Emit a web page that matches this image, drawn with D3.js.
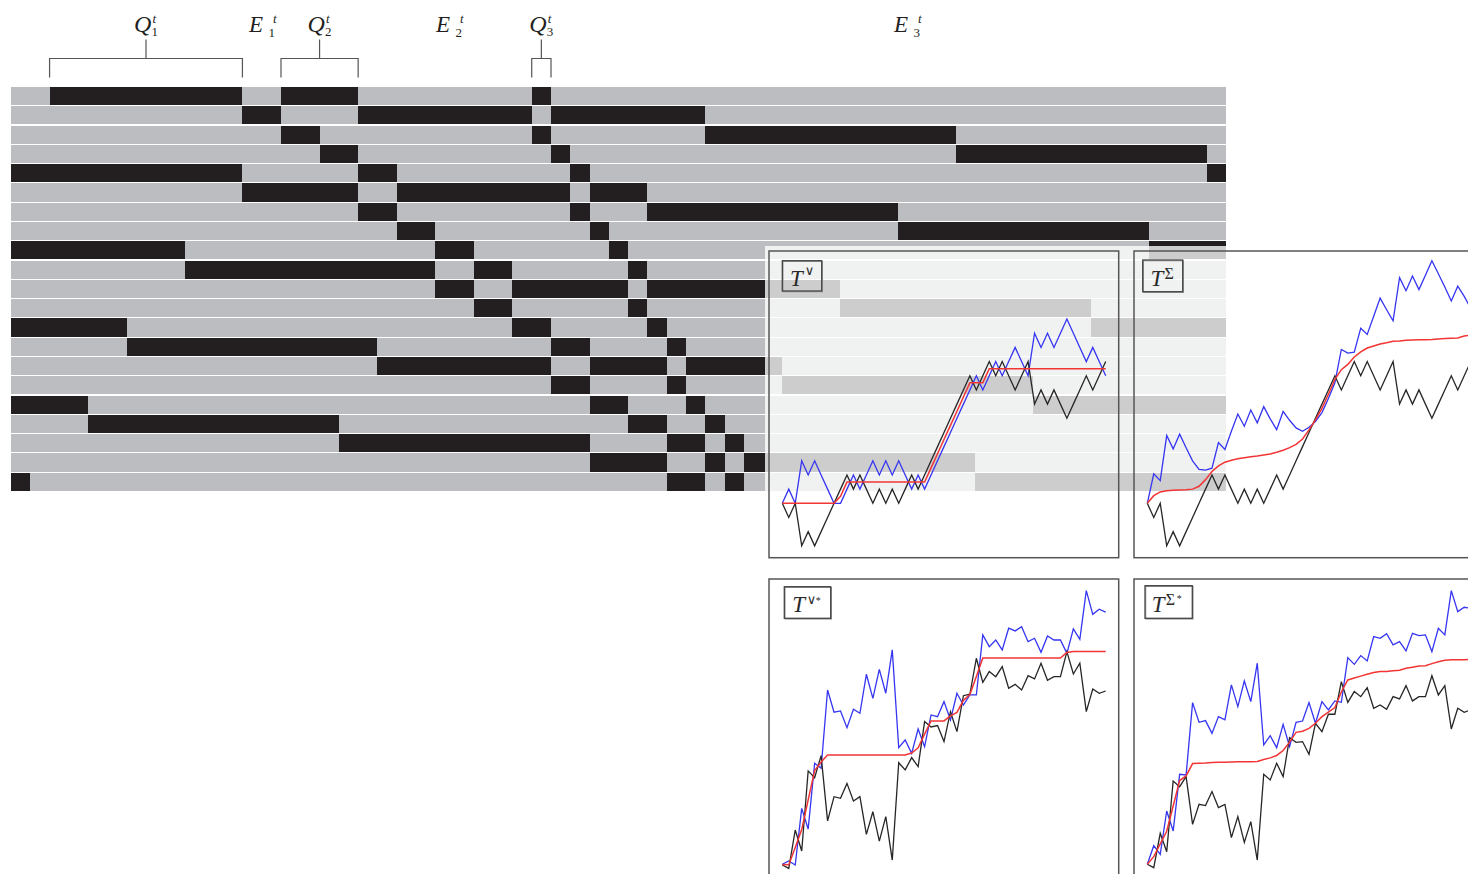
<!DOCTYPE html>
<html>
<head>
<meta charset="utf-8">
<script src="https://cdn.jsdelivr.net/npm/d3@7"></script>
<style>
  html, body { margin: 0; padding: 0; background: #fff; overflow: hidden; }
  svg { display: block; }
</style>
</head>
<body>
<svg id="fig" width="1468" height="874"></svg>
<script>
// ---- schedule grid: 21 rows x 63 time slots, busy intervals [start, end) per row
const nCols = 63;
const nRows = 21;
const rowBusy = [
  [[2,12],[14,18],[27,28]],
  [[12,14],[18,27],[28,36]],
  [[14,16],[27,28],[36,49]],
  [[16,18],[28,29],[49,62]],
  [[0,12],[18,20],[29,30],[62,63]],
  [[12,18],[20,29],[30,33]],
  [[18,20],[29,30],[33,46]],
  [[20,22],[30,31],[46,59]],
  [[0,9],[22,24],[31,32],[59,63]],
  [[9,22],[24,26],[32,33]],
  [[22,24],[26,32],[33,43]],
  [[24,26],[32,33],[43,56]],
  [[0,6],[26,28],[33,34],[56,63]],
  [[6,19],[28,30],[34,35]],
  [[19,28],[30,34],[35,40]],
  [[28,30],[34,35],[40,53]],
  [[0,4],[30,32],[35,36],[53,63]],
  [[4,17],[32,34],[36,37]],
  [[17,30],[34,36],[37,38]],
  [[30,34],[36,37],[38,50]],
  [[0,1],[34,36],[37,38],[50,63]]
];

// bracketed queue groups (column spans) and epoch label anchors (column units)
const queueIdx   = ["1", "2", "3"];
const queueFrom  = [2, 14, 27];
const queueTo    = [12, 18, 28];
const epochIdx   = ["1", "2", "3"];
const epochAt    = [12.34, 22.04, 45.78];

// ---- trajectories, 51 steps each, in lattice units
const topBlack = [0,-1,0,-3,-2,-3,-2,-1,0,1, 2,1,2,1,0,1,0,1,0,1,
  2,1,2,3,4,5,6,7,8,9, 8,9,10,9,10,9,8,9,10,7, 8,7,8,7,6,7,8,9,8,9, 10];
const topMaxRed = [0,0,0,0,0,0,0,0,0,0.5, 1.5,1.5,1.5,1.5,1.5,1.5,1.5,1.5,1.5,1.5,
  1.5,1.5,1.5,2.5,3.5,4.5,5.5,6.5,7.5,8.5, 8.5,8.5,9.5,9.5,9.5,9.5,9.5,9.5,9.5,9.5,
  9.5,9.5,9.5,9.5,9.5,9.5,9.5,9.5,9.5,9.5, 9.5];
const topMaxBlue = [0,1,0,3,2,3,2,1,0,0, 1,2,1,2,3,2,3,2,3,2,
  1,2,1,2,3,4,5,6,7,8, 9,8,9,10,9,10,11,10,9,12, 11,12,11,12,13,12,11,10,11,10, 9];
const topSumRed = [0,0.54,0.8,0.89,0.92,0.94,0.96,1.0,1.2,1.67,
  2.24,2.64,2.9,3.04,3.15,3.22,3.29,3.34,3.41,3.48,
  3.6,3.74,3.93,4.16,4.54,5.18,5.88,6.7,7.7,8.75,
  9.43,9.8,10.33,10.68,10.96,11.1,11.24,11.33,11.44,11.46,
  11.5,11.52,11.54,11.55,11.56,11.6,11.63,11.64,11.66,11.8, 11.88];
const topSumBlue = [0,2.08,1.6,4.78,3.84,4.88,3.92,3.0,2.4,2.34,
  2.48,4.28,3.8,5.08,6.3,5.44,6.58,5.68,6.82,5.96,
  5.2,6.48,5.86,5.32,5.08,5.36,5.76,6.4,7.4,8.5,
  10.86,10.6,10.66,12.36,11.92,13.2,14.48,13.66,12.88,15.92,
  15.0,16.04,15.08,16.1,17.12,16.2,15.26,14.28,15.32,14.6, 13.76];

const lowMaxBlack = [0,-0.24,2.47,0.99,6.64,6.16,7.72,3.11,4.82,4.71,
  5.76,4.52,4.82,2.16,3.76,1.69,3.41,0.35,7.22,6.71,
  7.58,6.94,10.12,9.74,9.84,8.71,10.82,9.41,11.95,12.05,
  14.59,12.89,13.65,13.29,14,12.47,12.75,12.35,13.36,13.13,
  14.24,13.04,13.29,13.29,15.06,13.48,14.24,10.82,12.42,12.12, 12.28];
const lowMaxBlue = [0.05,0.28,0,4,2.54,7.18,6.82,12.35,10.78,10.87,
  9.69,10.99,10.71,13.46,11.76,13.81,12.12,15.18,8.28,8.82,
  7.88,9.6,8.35,10.59,10.47,11.53,10.24,12.12,11.29,12,
  12,16.24,15.41,15.88,15.18,16.71,16.52,16.82,15.76,16,
  15.01,16.16,15.88,15.88,14.94,16.66,15.93,19.36,17.69,18.05, 17.84];
const lowMaxRed = [0.03,0.02,1.24,2.5,4.59,6.67,7.27,7.76,7.76,7.76,
  7.76,7.76,7.76,7.76,7.76,7.76,7.76,7.76,7.76,7.76,
  7.9,8.27,9.24,10.17,10.17,10.17,10.53,10.77,11.62,12.03,
  13.3,14.6,14.6,14.6,14.6,14.6,14.6,14.6,14.6,14.6,
  14.6,14.6,14.6,14.6,15.0,15.07,15.07,15.07,15.07,15.07, 15.07];

const lowSumBlack = [0.05,-0.19,2.24,0.94,5.93,5.53,6.24,2.87,4.28,4.19,
  5.18,4.05,4.28,1.93,3.41,1.6,3.06,0.35,6.4,6,
  7.18,6.24,8.99,8.66,8.71,7.81,10,9.41,10.64,10.64,
  12.94,11.48,12.24,11.88,12.52,11.06,11.29,10.99,11.88,11.72,
  12.66,11.58,11.88,11.88,13.36,12,12.66,9.6,11.06,10.78, 10.94];
const lowSumBlue = [0.05,1.36,0.75,3.81,2.4,6.4,6.35,11.46,10.07,10.19,
  9.29,10.47,10.24,12.71,11.18,12.99,11.53,14.24,8.47,9.13,
  8.28,9.93,8.35,10.07,10.16,11.46,10,11.53,10.94,11.58,
  11.48,14.64,14.16,14.78,14.4,16.12,16,16.33,15.53,15.76,
  15.11,16.35,16.19,16.24,15.06,16.71,16.24,19.36,17.88,18.19, 18.12];
const lowSumRed = [0.05,0.59,1.49,2.38,4.16,5.96,6.29,7.16,7.18,7.19,
  7.24,7.25,7.26,7.27,7.28,7.29,7.29,7.3,7.44,7.56,
  7.73,8.08,8.67,9.36,9.44,9.64,10,10.47,10.79,11.11,
  12.21,13.06,13.2,13.33,13.46,13.59,13.65,13.66,13.71,13.74,
  13.88,13.96,14.04,14.06,14.21,14.35,14.45,14.48,14.48,14.49, 14.5];

// ---- drawing
const W = 1468, H = 874;
const GRAY = "#bcbdc0", INK = "#231f20";
const SERIF = "'Liberation Serif','DejaVu Serif',serif";
const SYM = "'DejaVu Sans','Noto Sans',sans-serif";
const svg = d3.select("#fig");

const xCol = d3.scaleLinear().domain([0, nCols]).range([11, 1226]);
const yRow = d3.scaleLinear().domain([0, nRows]).range([87, 492]);
const rowH = yRow(1) - yRow(0) - 1.1;

const gridG = svg.append("g").attr("shape-rendering", "crispEdges");
rowBusy.forEach((segs, r) => {
  gridG.append("rect")
    .attr("x", xCol(0)).attr("y", yRow(r))
    .attr("width", xCol(nCols) - xCol(0)).attr("height", rowH)
    .attr("fill", GRAY);
  gridG.selectAll(null).data(segs).enter().append("rect")
    .attr("x", d => xCol(d[0])).attr("y", yRow(r))
    .attr("width", d => xCol(d[1]) - xCol(d[0])).attr("height", rowH)
    .attr("fill", INK);
});

// brackets and queue labels
const headG = svg.append("g");
queueIdx.forEach((q, k) => {
  const a = xCol(queueFrom[k]), b = xCol(queueTo[k]), m = (a + b) / 2;
  headG.append("path")
    .attr("d", `M${a},77.5V58.5H${b}V77.5M${m},58.5V39.5`)
    .attr("fill", "none").attr("stroke", "#555").attr("stroke-width", 1.2);
  const t = headG.append("text").attr("font-family", SERIF).attr("fill", "#231f20");
  const x0 = m - 12;
  t.append("tspan").attr("x", x0).attr("y", 32).attr("font-size", 24)
    .attr("font-style", "italic").text("Q");
  t.append("tspan").attr("x", x0 + 17.5).attr("y", 36).attr("font-size", 13).text(q);
  t.append("tspan").attr("x", x0 + 18.5).attr("y", 23).attr("font-size", 13)
    .attr("font-style", "italic").text("t");
});
epochIdx.forEach((e, k) => {
  const x0 = xCol(epochAt[k]);
  const t = headG.append("text").attr("font-family", SERIF).attr("fill", "#231f20");
  t.append("tspan").attr("x", x0).attr("y", 32).attr("font-size", 23)
    .attr("font-style", "italic").text("E");
  t.append("tspan").attr("x", x0 + 19.5).attr("y", 37).attr("font-size", 13).text(e);
  t.append("tspan").attr("x", x0 + 24).attr("y", 23).attr("font-size", 13)
    .attr("font-style", "italic").text("t");
});

// translucent veil under the panels
svg.append("rect").attr("x", 765).attr("y", 246)
  .attr("width", W - 765).attr("height", H - 246)
  .attr("fill", "#fff").attr("opacity", 0.78);

const panels = [
  { frame: [769, 251, 1118.7, 557.7], x0: 782.3, x1: 1105.7, base: 503.3,
    box: [782.3, 260.7, 39.4, 30.3], T: [790, 285.5], sym: "\u2228", symAt: [804.8, 275], symSize: 13, star: null,
    blue: topMaxBlue, black: topBlack, red: topMaxRed },
  { frame: [1134, 251, 1484, 557.7], x0: 1147.3, x1: 1470.7, base: 503.3,
    box: [1142.7, 260, 40, 31.7], T: [1150.5, 285.7], sym: "\u03A3", symAt: [1164.5, 278.5], symSize: 16, star: null,
    blue: topSumBlue, black: topBlack, red: topSumRed },
  { frame: [769, 579, 1118.7, 900], x0: 782.3, x1: 1105.7, base: 865,
    box: [784.3, 586.7, 46.4, 31.6], T: [792.3, 611.7], sym: "\u2228", symAt: [806.8, 604], symSize: 13, star: [815.8, 603.5],
    blue: lowMaxBlue, black: lowMaxBlack, red: lowMaxRed },
  { frame: [1134, 579, 1484, 900], x0: 1147.3, x1: 1470.7, base: 865,
    box: [1145, 585.7, 47.3, 32.6], T: [1151.7, 612], sym: "\u03A3", symAt: [1165.8, 605], symSize: 16, star: [1176.8, 601.5],
    blue: lowSumBlue, black: lowSumBlack, red: lowSumRed }
];

const unitPx = 14.17;
panels.forEach(p => {
  const g = svg.append("g");
  const [l, t, r, b] = p.frame;
  g.append("rect").attr("x", l).attr("y", t).attr("width", r - l).attr("height", b - t)
    .attr("fill", "none").attr("stroke", "#555").attr("stroke-width", 1.5);

  const xs = d3.scaleLinear().domain([0, p.black.length - 1]).range([p.x0, p.x1]);
  const ys = d3.scaleLinear().domain([0, 1]).range([p.base, p.base - unitPx]);
  const path = d3.line().x((d, i) => xs(i)).y(d => ys(d));

  g.append("path").datum(p.blue).attr("d", path)
    .attr("fill", "none").attr("stroke", "#3535f2").attr("stroke-width", 1.3);
  g.append("path").datum(p.black).attr("d", path)
    .attr("fill", "none").attr("stroke", "#262626").attr("stroke-width", 1.3);
  g.append("path").datum(p.red).attr("d", path)
    .attr("fill", "none").attr("stroke", "#f23434").attr("stroke-width", 1.5);

  const [bx, by, bw, bh] = p.box;
  g.append("rect").attr("x", bx + 0.8).attr("y", by + 0.8).attr("width", bw).attr("height", bh)
    .attr("fill", "none").attr("stroke", "#9a9a9a").attr("stroke-width", 1);
  g.append("rect").attr("x", bx).attr("y", by).attr("width", bw).attr("height", bh)
    .attr("fill", "none").attr("stroke", "#444").attr("stroke-width", 1.3);

  const lab = g.append("text").attr("fill", "#2a2a2a");
  lab.append("tspan").attr("x", p.T[0]).attr("y", p.T[1]).attr("font-size", 23)
    .attr("font-family", SERIF).attr("font-style", "italic").text("T");
  lab.append("tspan").attr("x", p.symAt[0]).attr("y", p.symAt[1])
    .attr("font-family", p.sym === "\u2228" ? SYM : SERIF)
    .attr("font-size", p.symSize).text(p.sym);
  if (p.star) {
    lab.append("tspan").attr("x", p.star[0]).attr("y", p.star[1])
      .attr("font-family", SERIF).attr("font-size", 10).text("*");
  }
});
</script>
</body>
</html>
